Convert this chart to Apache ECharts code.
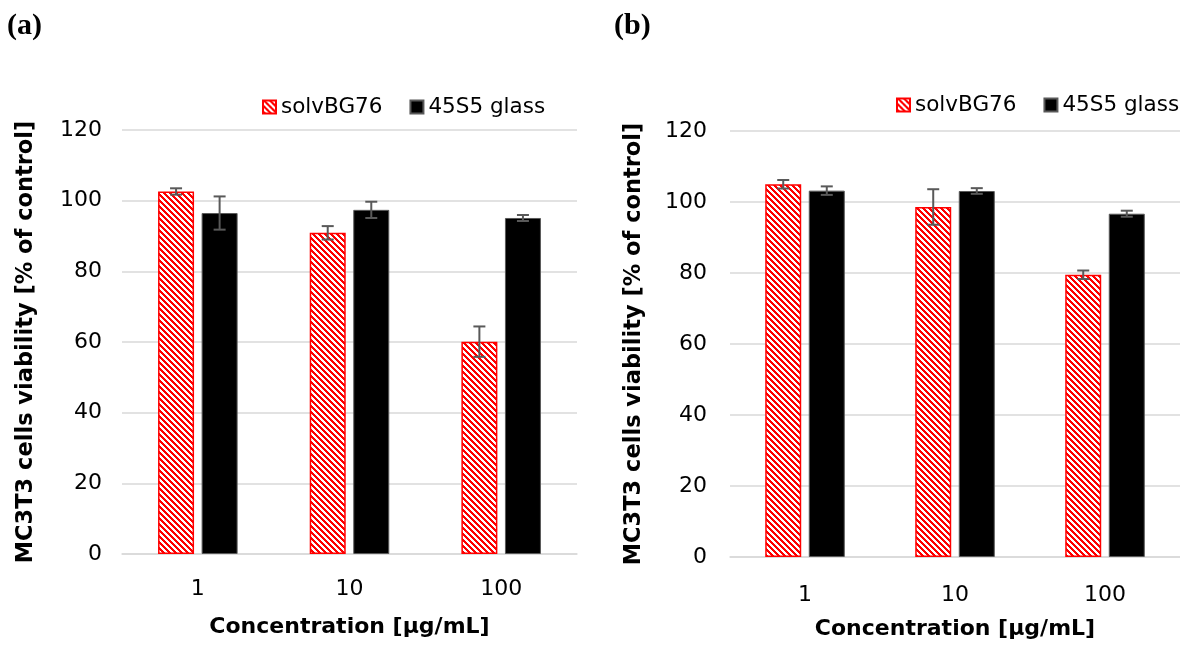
<!DOCTYPE html>
<html>
<head>
<meta charset="utf-8">
<script src="https://cdn.jsdelivr.net/npm/echarts@6/dist/echarts.min.js"></script>
<style>
  html, body { margin: 0; padding: 0; background: #fff; }
  #chart { width: 1180px; height: 645px; }
</style>
</head>
<body>
<div id="chart"></div>
<script>
// Concentration groups on the x axis
const categories = ['1', '10', '100'];

// Panel (a): mean viability and standard deviation
const solvA = [102.6, 90.9, 60.1];
const solvAErr = [0.9, 1.9, 4.3];
const glassA = [96.5, 97.4, 95.1];
const glassAErr = [4.7, 2.3, 0.85];

// Panel (b): mean viability and standard deviation
const solvB = [105.0, 98.6, 79.5];
const solvBErr = [1.2, 5.0, 1.2];
const glassB = [103.2, 103.1, 96.7];
const glassBErr = [1.2, 0.8, 0.85];

const seriesNames = ['solvBG76', '45S5 glass'];
const panelTitles = ['(a)', '(b)'];
const yName = 'MC3T3 cells viability [% of control]';
const xName = 'Concentration [\u03bcg/mL]';

const FONT = 'DejaVu Sans, Liberation Sans, Arial, sans-serif';
const SERIF = 'Liberation Serif, Times New Roman, serif';
const BAR_W = 36;
const BAR_GAP = 0.21;
const OFFSET = (BAR_W + BAR_W * BAR_GAP) / 2;

// Red "wide downward diagonal" hatch tile
function hatchTile() {
  const n = 6;
  const c = document.createElement('canvas');
  c.width = n; c.height = n;
  const ctx = c.getContext('2d');
  ctx.fillStyle = '#ffffff';
  ctx.fillRect(0, 0, n, n);
  ctx.fillStyle = '#ff0000';
  for (let y = 0; y < n; y++) {
    for (let x = 0; x < n; x++) {
      if (((x - y) % n + n) % n < 3) ctx.fillRect(x, y, 1, 1);
    }
  }
  return c;
}
const hatch = { image: hatchTile(), repeat: 'repeat' };

function errorSeries(vals, errs, gi, shift) {
  return {
    type: 'custom',
    name: 'sd-' + gi + '-' + shift,
    xAxisIndex: gi,
    yAxisIndex: gi,
    z: 5,
    silent: true,
    encode: { x: 0, y: 1 },
    data: vals.map((v, i) => [i, v, errs[i]]),
    renderItem: function (params, api) {
      const idx = api.value(0), v = api.value(1), e = api.value(2);
      const x = api.coord([idx, v])[0] + shift * OFFSET;
      const yTop = api.coord([idx, v + e])[1];
      const yBot = api.coord([idx, v - e])[1];
      const cap = 6;
      const style = { stroke: '#595959', lineWidth: 2 };
      return {
        type: 'group',
        children: [
          { type: 'line', shape: { x1: x, y1: yTop, x2: x, y2: yBot }, style: style },
          { type: 'line', shape: { x1: x - cap, y1: yTop, x2: x + cap, y2: yTop }, style: style },
          { type: 'line', shape: { x1: x - cap, y1: yBot, x2: x + cap, y2: yBot }, style: style }
        ]
      };
    }
  };
}

function barSeries(name, vals, gi, isHatch) {
  return {
    type: 'bar',
    name: name,
    xAxisIndex: gi,
    yAxisIndex: gi,
    barWidth: BAR_W,
    barGap: (BAR_GAP * 100) + '%',
    data: vals,
    itemStyle: isHatch
      ? { color: hatch, borderColor: '#ff0000', borderWidth: 1.5 }
      : { color: '#000000', borderColor: '#595959', borderWidth: 1 }
  };
}

const grids = [
  { left: 122, top: 130, width: 455, height: 424 },
  { left: 730, top: 131, width: 455, height: 428 }
];
const labelMargins = [24, 27];
const nameGaps = [62, 61];

const legendBase = {
  data: seriesNames, orient: 'horizontal', width: 320,
  itemWidth: 13, itemHeight: 13, itemGap: 27, icon: 'rect',
  textStyle: { fontFamily: FONT, fontSize: 21.5, color: '#000' }
};

const option = {
  animation: false,
  backgroundColor: '#ffffff',
  title: [
    { text: panelTitles[0], left: 2, top: 6,
      textStyle: { fontFamily: SERIF, fontWeight: 'bold', fontSize: 30, color: '#000' } },
    { text: panelTitles[1], left: 609, top: 6,
      textStyle: { fontFamily: SERIF, fontWeight: 'bold', fontSize: 30, color: '#000' } }
  ],
  legend: [
    Object.assign({ left: 257, top: 91 }, legendBase),
    Object.assign({ left: 891, top: 89 }, legendBase)
  ],
  grid: grids,
  xAxis: grids.map((g, i) => ({
    type: 'category',
    gridIndex: i,
    data: categories,
    axisLine: { lineStyle: { color: '#d9d9d9', width: 1.5 } },
    axisTick: { show: false },
    axisLabel: { fontFamily: FONT, fontSize: 22, color: '#000', margin: labelMargins[i] },
    name: xName,
    nameLocation: 'middle',
    nameGap: nameGaps[i],
    nameTextStyle: { fontFamily: FONT, fontSize: 22, fontWeight: 'bold', color: '#000' }
  })),
  yAxis: grids.map((g, i) => ({
    type: 'value',
    gridIndex: i,
    min: 0,
    max: 120,
    interval: 20,
    axisLine: { show: false },
    axisTick: { show: false },
    splitLine: { lineStyle: { color: '#d9d9d9', width: 1.5 } },
    axisLabel: { fontFamily: FONT, fontSize: 22, color: '#000', margin: i === 0 ? 20 : 23 },
    name: yName,
    nameLocation: 'middle',
    nameGap: 84,
    nameTextStyle: { fontFamily: FONT, fontSize: 22.5, fontWeight: 'bold', color: '#000' }
  })),
  series: [
    barSeries(seriesNames[0], solvA, 0, true),
    barSeries(seriesNames[1], glassA, 0, false),
    barSeries(seriesNames[0], solvB, 1, true),
    barSeries(seriesNames[1], glassB, 1, false),
    errorSeries(solvA, solvAErr, 0, -1),
    errorSeries(glassA, glassAErr, 0, 1),
    errorSeries(solvB, solvBErr, 1, -1),
    errorSeries(glassB, glassBErr, 1, 1)
  ]
};

const chart = echarts.init(document.getElementById('chart'), null, { renderer: 'canvas' });
chart.setOption(option);
</script>
</body>
</html>
